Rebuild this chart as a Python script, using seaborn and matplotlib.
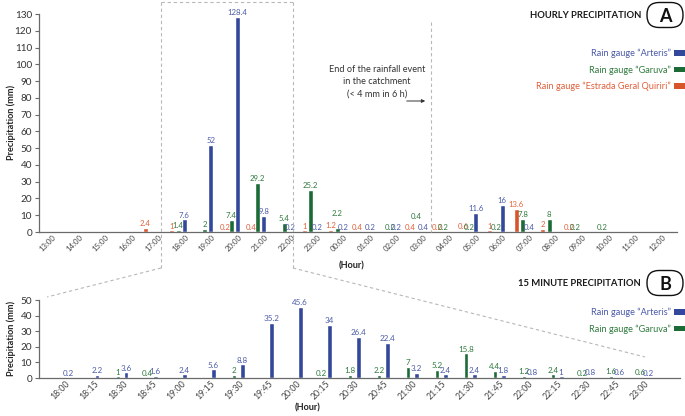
import numpy as np
import pandas as pd
import matplotlib
matplotlib.use("Agg")
import matplotlib.pyplot as plt
import seaborn as sns
from matplotlib.patches import FancyBboxPatch, Patch, FancyArrowPatch
from matplotlib.lines import Line2D

nan = np.nan

# ---------------- data ----------------
hours = ["13:00", "14:00", "15:00", "16:00", "17:00", "18:00", "19:00", "20:00",
         "21:00", "22:00", "23:00", "00:00", "01:00", "02:00", "03:00", "04:00",
         "05:00", "06:00", "07:00", "08:00", "09:00", "10:00", "11:00", "12:00"]
arteris_h = [nan, nan, nan, nan, nan, 7.6, 52, 128.4, 9.8, 0.2, 0.2, 0.2,
             0.2, 0.2, 0.4, nan, 11.6, 16, 0.4, nan, nan, nan, nan, nan]
garuva_h = [nan, nan, nan, nan, nan, 1.4, 2, 7.4, 29.2, 5.4, 25.2, 2.2,
            nan, 0.2, 0.4, 0.2, 0.2, 0.2, 7.8, 8, 0.2, 0.2, nan, nan]
estrada_h = [nan, nan, nan, nan, 2.4, 1, nan, 0.2, 0.4, nan, 1, 1.2,
             0.4, nan, 0.4, 0.2, 0.6, 1, 13.6, 2, 0.2, nan, nan, nan]

quarters = ["18:00", "18:15", "18:30", "18:45", "19:00", "19:15", "19:30", "19:45",
            "20:00", "20:15", "20:30", "20:45", "21:00", "21:15", "21:30", "21:45",
            "22:00", "22:15", "22:30", "22:45", "23:00"]
arteris_q = [0.2, 2.2, 3.6, 1.6, 2.4, 5.6, 8.8, 35.2, 45.6, 34, 26.4, 22.4,
             3.2, 2.4, 2.4, 1.8, 0.8, 1, 0.8, 0.6, 0.2]
garuva_q = [nan, nan, 1, 0.4, nan, nan, 2, nan, nan, 0.2, 1.8, 2.2,
            7, 5.2, 15.8, 4.4, 1.2, 2.4, 0.2, 1.6, 0.6]

names = ["Rain gauge \u201cArteris\u201d", "Rain gauge \u201cGaruva\u201d",
         "Rain gauge \u201cEstrada Geral Quiriri\u201d"]
bar_colors = {"A": "#34489b", "G": "#1c6b36", "E": "#d8542b"}
txt_colors = {"A": "#4b5aa9", "G": "#2f7a3c", "E": "#e0603a"}

# ---------------- style ----------------
sns.set_style("white")
plt.rcParams["font.family"] = ["Lato", "DejaVu Sans"]

W, H = 685, 416
fig = plt.figure(figsize=(W / 100, H / 100), dpi=100)


def P(x, y):
    return (x / 100, (H - y) / 100)


def long_df(cats, series):
    rows = []
    for key, vals in series.items():
        for c, v in zip(cats, vals):
            if not np.isnan(v):
                rows.append({"cat": c, "val": v, "gauge": key})
    return pd.DataFrame(rows)


def style_axis(ax, ymax, ystep, xtick_fs):
    ax.set_ylim(0, ymax)
    ax.set_yticks(np.arange(0, ymax + 1, ystep))
    for s in ["top", "right"]:
        ax.spines[s].set_visible(False)
    for s in ["left", "bottom"]:
        ax.spines[s].set_color("#6a6a6a")
        ax.spines[s].set_linewidth(0.9)
    ax.tick_params(axis="y", direction="out", length=3, width=0.8, color="#6a6a6a",
                   labelsize=7.2, labelcolor="#333333", pad=2, left=True)
    ax.tick_params(axis="x", length=0, labelsize=xtick_fs, labelcolor="#444444", pad=3)
    ax.set_xlabel("")
    ax.set_ylabel("")
    ax.grid(False)
    ax.set_facecolor("none")


def label_bars(ax, df, cats, order, raise_map, fs):
    for cont, key in zip(ax.containers, order):
        present = [c for c in cats if c in set(df.loc[df.gauge == key, "cat"])]
        texts = ax.bar_label(cont, fmt="%g", padding=0.5, fontsize=fs, color=txt_colors[key])
        for t, c in zip(texts, present):
            if (key, c) in raise_map:
                t.xyann = (0, raise_map[(key, c)])


# ---------------- top: hourly ----------------
ax1 = fig.add_axes([39 / W, 1 - 232 / H, (677 - 39) / W, (232 - 14) / H])
order_h = ["E", "G", "A"]
df_h = long_df(hours, {"A": arteris_h, "G": garuva_h, "E": estrada_h})
sns.barplot(data=df_h, x="cat", y="val", hue="gauge", order=hours, hue_order=order_h,
            palette=bar_colors, dodge=True, width=0.72, gap=0.22, errorbar=None,
            legend=False, ax=ax1, saturation=1)
label_bars(ax1, df_h, hours, order_h, {("G", "00:00"): 8, ("G", "03:00"): 8}, 5.6)
style_axis(ax1, 130, 10, 5.6)
ax1.set_xlim(-0.25, 23.83)
ax1.set_xticks(np.arange(len(hours)) + 0.36)
ax1.set_xticklabels(hours, rotation=45, ha="right", rotation_mode="anchor", va="center")

# ---------------- bottom: 15 min ----------------
ax2 = fig.add_axes([39 / W, 1 - 378 / H, (680 - 39) / W, (378 - 300) / H])
order_q = ["G", "A"]
df_q = long_df(quarters, {"A": arteris_q, "G": garuva_q})
sns.barplot(data=df_q, x="cat", y="val", hue="gauge", order=quarters, hue_order=order_q,
            palette=bar_colors, dodge=True, width=0.56, gap=0.4, errorbar=None,
            legend=False, ax=ax2, saturation=1)
label_bars(ax2, df_q, quarters, order_q, {}, 5.8)
style_axis(ax2, 50, 10, 6.3)
ax2.set_xlim(-0.862, 21.24)
ax2.set_xticks(np.arange(len(quarters)) + 0.14)
ax2.set_xticklabels(quarters, rotation=45, ha="right", rotation_mode="anchor", va="center")

# ---------------- axis titles ----------------
for yc in (122, 338):
    x, y = P(11, yc)
    fig.text(x, y, "Precipitation (mm)", transform=fig.dpi_scale_trans, rotation=90,
             ha="center", va="center", fontsize=6.6, fontweight="bold", color="#222")
for (xc, yc) in ((352, 266), (308, 408)):
    x, y = P(xc, yc)
    fig.text(x, y, "(Hour)", transform=fig.dpi_scale_trans, ha="center", va="center",
             fontsize=6.6, fontweight="bold", color="#222")

# ---------------- panel titles ----------------
for title, letter, yc in (("HOURLY PRECIPITATION", "A", 15),
                          ("15 MINUTE PRECIPITATION", "B", 283)):
    x, y = P(641, yc)
    fig.text(x, y, title, transform=fig.dpi_scale_trans, ha="right", va="center",
             fontsize=6.8, fontweight="bold", color="#1a1a1a")
    bx, by = P(647, yc + 12.5)
    fig.add_artist(FancyBboxPatch((bx, by), 0.36, 0.25,
                                  boxstyle="round,pad=0,rounding_size=0.12",
                                  transform=fig.dpi_scale_trans, fc="white",
                                  ec="#111", lw=1.0))
    x, y = P(665, yc + 1)
    fig.text(x, y, letter, transform=fig.dpi_scale_trans, ha="center", va="center",
             fontsize=13, fontweight="bold", color="#111")

# ---------------- legends ----------------
def make_legend(ax, keys, labels, ytop):
    handles = [Patch(facecolor=bar_colors[k], edgecolor="none") for k in keys]
    x, y = P(685, ytop)
    leg = ax.legend(handles, labels, loc="upper right", bbox_to_anchor=(x, y),
                    bbox_transform=fig.dpi_scale_trans, markerfirst=False, frameon=False,
                    fontsize=6.6, handlelength=1.2, handleheight=0.55, handletextpad=0.35,
                    labelspacing=0.75, borderaxespad=0, borderpad=0.0,
                    labelcolor=[txt_colors[k] for k in keys])
    return leg

make_legend(ax1, ["A", "G", "E"], names, 49)
make_legend(ax2, ["A", "G"], names[:2], 308)

# ---------------- annotations ----------------
dash_kw = dict(color="#b8b8b8", lw=0.8, dashes=(3, 2.5), transform=fig.dpi_scale_trans)

def seg(p, q):
    fig.add_artist(Line2D([P(*p)[0], P(*q)[0]], [P(*p)[1], P(*q)[1]], **dash_kw))

seg((161, 2), (293, 2))
seg((161, 2), (161, 268))
seg((293, 2), (293, 268))
seg((161, 268), (47, 297))
seg((293, 268), (645, 357))
seg((431, 22), (431, 232))

x, y = P(377, 82)
fig.text(x, y, "End of the rainfall event\nin the catchment\n(< 4 mm in 6 h)",
         transform=fig.dpi_scale_trans, ha="center", va="center", fontsize=6.6,
         color="#333", linespacing=1.5)
fig.add_artist(FancyArrowPatch(P(404, 101), P(428, 101), transform=fig.dpi_scale_trans,
                               arrowstyle="-|>", mutation_scale=5, lw=0.7, color="#333"))

fig.savefig("out.png", dpi=100)
